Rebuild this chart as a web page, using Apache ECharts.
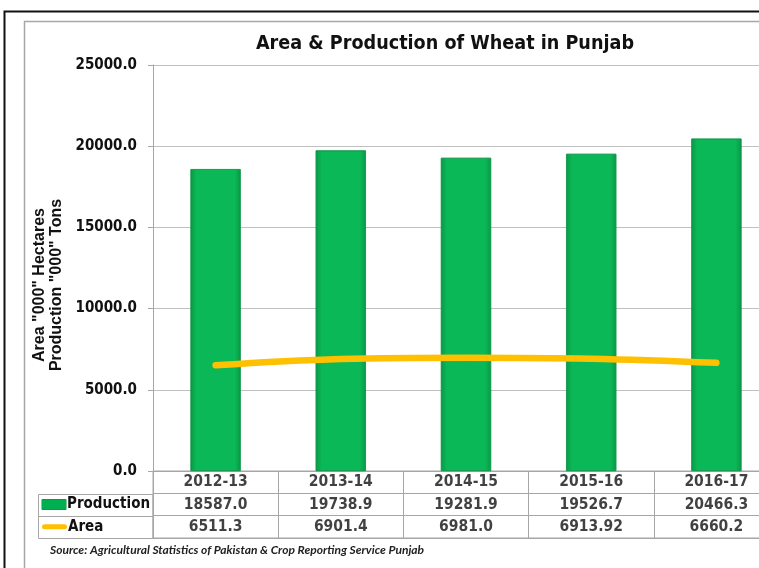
<!DOCTYPE html>
<html>
<head>
<meta charset="utf-8">
<script src="https://cdn.jsdelivr.net/npm/echarts@6/dist/echarts.min.js"></script>
<style>
html,body{margin:0;padding:0;background:#fff;overflow:hidden;}
#c{width:800px;height:568px;}
</style>
</head>
<body>
<div id="c"></div>
<script>
// ---- data ----
var categories = ['2012-13', '2013-14', '2014-15', '2015-16', '2016-17'];
var production = [18587.0, 19738.9, 19281.9, 19526.7, 20466.3];
var area = [6511.3, 6901.4, 6981.0, 6913.92, 6660.2];
var yTicks = [0, 5000, 10000, 15000, 20000, 25000];
var titleText = 'Area & Production of Wheat in Punjab';
var yName = 'Area "000" Hectares\nProduction "000" Tons';
var sourceText = 'Source: Agricultural Statistics of Pakistan & Crop Reporting Service Punjab';
var rowNames = ['', 'Production', 'Area'];

function fmt(v) {
  var t = v * 10;
  return Math.abs(t - Math.round(t)) < 1e-6 ? v.toFixed(1) : String(v);
}

var FONT = 'DejaVu Sans Condensed';
var GREEN = '#00B050';
var ORANGE = '#FFC000';

var cells = [];
categories.forEach(function (c, i) {
  cells.push({ value: [i, 0], name: c });
  cells.push({ value: [i, 1], name: fmt(production[i]) });
  cells.push({ value: [i, 2], name: fmt(area[i]) });
});

var chart = echarts.init(document.getElementById('c'), null, { renderer: 'canvas' });
chart.setOption({
  animation: false,
  backgroundColor: '#fff',
  title: {
    text: titleText,
    left: 444, top: 29, textAlign: 'center',
    textStyle: { fontFamily: FONT, fontWeight: 'bold', fontSize: 19.6, color: '#111' }
  },
  graphic: [
    { type: 'rect', shape: { x: 4.5, y: 11.5, width: 900, height: 700 }, style: { fill: null, stroke: '#111', lineWidth: 2 }, z: -10 },
    { type: 'rect', shape: { x: 24.5, y: 21.5, width: 900, height: 700 }, style: { fill: null, stroke: '#A6A6A6', lineWidth: 1.5 }, z: -10 },
    { type: 'rect', shape: { x: 38.5, y: 494.5, width: 114.5, height: 44 }, style: { fill: null, stroke: '#A6A6A6', lineWidth: 1 } },
    { type: 'line', shape: { x1: 38.5, y1: 516.5, x2: 153, y2: 516.5 }, style: { stroke: '#A6A6A6', lineWidth: 1 } },
    { type: 'text', left: 50, top: 544, style: { text: sourceText, font: 'italic bold 12px Lato', fill: '#222' } },
    {
      type: 'text', x: 48, y: 285, rotation: Math.PI / 2,
      style: {
        text: yName, font: 'bold 16px "Liberation Sans"', lineHeight: 17, fill: '#111',
        align: 'center', verticalAlign: 'middle'
      }
    }
  ],
  grid: [
    { left: 153, top: 65, width: 626, height: 406 },
    { left: 153, top: 471, width: 626, height: 67, show: true, borderColor: '#A6A6A6', borderWidth: 1 }
  ],
  xAxis: [
    {
      type: 'category', gridIndex: 0, data: categories,
      axisLine: { lineStyle: { color: '#A6A6A6' } },
      axisTick: { show: false }, axisLabel: { show: false }
    },
    {
      type: 'category', gridIndex: 1, data: categories,
      axisLine: { show: false }, axisTick: { show: false }, axisLabel: { show: false },
      splitLine: { show: true, lineStyle: { color: '#A6A6A6' } }
    }
  ],
  yAxis: [
    {
      type: 'value', gridIndex: 0, min: 0, max: 25000, interval: 5000,
      axisLine: { show: true, lineStyle: { color: '#A6A6A6' } },
      axisTick: { show: true, length: 5, lineStyle: { color: '#A6A6A6' } },
      axisLabel: {
        margin: 16, fontFamily: FONT, fontWeight: 'bold', fontSize: 15, color: '#111',
        formatter: function (v) { return v.toFixed(1); }
      },
      splitLine: { lineStyle: { color: '#C0C0C0' } }
    },
    {
      type: 'category', gridIndex: 1, data: rowNames, inverse: true,
      axisLine: { show: false }, axisTick: { show: false },
      splitLine: { show: true, lineStyle: { color: '#A6A6A6' } },
      axisLabel: {
        align: 'left', margin: 111,
        formatter: function (v) {
          if (v === 'Production') return '{g|}{t|' + v + '}';
          if (v === 'Area') return '{o|}{t|' + v + '}';
          return '';
        },
        rich: {
          g: { width: 24, height: 10, backgroundColor: GREEN, borderColor: '#0a8a40', borderWidth: 0.5 },
          o: { width: 25, height: 5, backgroundColor: ORANGE, borderRadius: 3 },
          t: { fontFamily: FONT, fontWeight: 'bold', fontSize: 15, color: '#111', padding: [0, 0, 0, 1] }
        }
      }
    }
  ],
  series: [
    {
      name: 'Production', type: 'bar', xAxisIndex: 0, yAxisIndex: 0,
      data: production, barWidth: '40%',
      itemStyle: {
        color: new echarts.graphic.LinearGradient(0, 0, 1, 0, [
          { offset: 0, color: '#079a46' },
          { offset: 0.12, color: '#0bb857' },
          { offset: 0.88, color: '#0bb857' },
          { offset: 1, color: '#079a46' }
        ]),
        borderColor: '#0a9445', borderWidth: 0.6
      }
    },
    {
      name: 'Area', type: 'line', xAxisIndex: 0, yAxisIndex: 0,
      data: area, smooth: 0.4, symbol: 'none',
      lineStyle: { color: ORANGE, width: 6.5, cap: 'round' }
    },
    {
      name: 'table', type: 'scatter', xAxisIndex: 1, yAxisIndex: 1,
      data: cells, symbolSize: 1, silent: true,
      itemStyle: { color: 'rgba(0,0,0,0)' },
      label: {
        show: true, position: 'inside', formatter: '{b}',
        fontFamily: FONT, fontWeight: 'bold', fontSize: 15.5, color: '#111'
      }
    }
  ]
});
chart.setOption({ title: { left: 440 } });
</script>
</body>
</html>
